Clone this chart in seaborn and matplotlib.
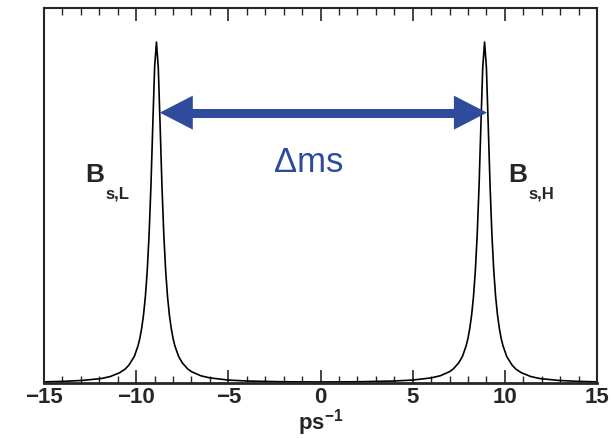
import matplotlib
matplotlib.use("Agg")
import matplotlib.pyplot as plt
from matplotlib.ticker import MultipleLocator
import seaborn as sns
import pandas as pd

# Curve (arbitrary units, peak = 1)
x_vals = [-15.0, -13.9, -12.9, -11.9, -11.4, -10.9, -10.6, -10.4, -10.1, -9.9, -9.8,
          -9.7, -9.6, -9.5, -9.4, -9.3, -9.2, -9.1, -9.0, -8.9, -8.8, -8.7, -8.6,
          -8.5, -8.4, -8.3, -8.2, -8.1, -8.0, -7.9, -7.7, -7.5, -7.2, -7.0, -6.5,
          -6.0, -5.0, -4.0, -2.0, 0.0,
          2.0, 4.0, 5.0, 6.0, 6.5, 7.0, 7.2, 7.5, 7.7, 7.9, 8.0, 8.1, 8.2, 8.3,
          8.4, 8.5, 8.6, 8.7, 8.8, 8.9, 9.0, 9.1, 9.2, 9.3, 9.4, 9.5, 9.6, 9.7,
          9.8, 9.9, 10.1, 10.4, 10.6, 10.9, 11.4, 11.9, 12.9, 13.9, 15.0]
y_vals = [0.0033, 0.0049, 0.0076, 0.013, 0.019, 0.030, 0.0407, 0.052, 0.078, 0.109, 0.131,
          0.161, 0.200, 0.254, 0.329, 0.434, 0.576, 0.754, 0.925, 1.0, 0.925, 0.754, 0.576,
          0.434, 0.329, 0.254, 0.200, 0.161, 0.131, 0.109, 0.078, 0.0592, 0.041, 0.0332, 0.0213,
          0.0149, 0.0086, 0.0058, 0.0036, 0.003,
          0.0036, 0.0058, 0.0086, 0.0149, 0.0213, 0.0332, 0.041, 0.0592, 0.078, 0.109, 0.131,
          0.161, 0.200, 0.254, 0.329, 0.434, 0.576, 0.754, 0.925, 1.0, 0.925, 0.754, 0.576,
          0.434, 0.329, 0.254, 0.200, 0.161, 0.131, 0.109, 0.078, 0.052, 0.0407, 0.030, 0.019,
          0.013, 0.0076, 0.0049, 0.0033]

x_ticks = [-15, -10, -5, 0, 5, 10, 15]
x_tick_labels = ["\u221215", "\u221210", "\u22125", "0", "5", "10", "15"]
arrow_ends = [-8.72, 9.03]
arrow_level = 0.793
delta_label = "\u0394ms"
peak_names = ["B", "B"]
peak_subs = ["s,L", "s,H"]

sns.set_style("ticks")
plt.rcParams['font.family'] = ['Liberation Sans', 'DejaVu Sans']
plt.rcParams['mathtext.fontset'] = 'custom'
plt.rcParams['mathtext.rm'] = 'Liberation Sans'
plt.rcParams['mathtext.bf'] = 'Liberation Sans:bold'

df = pd.DataFrame({"x": x_vals, "y": y_vals})

fig = plt.figure(figsize=(6.12, 4.38), dpi=100)
ax = fig.add_axes([0.0719, 0.1256, 0.9036, 0.8562])
sns.lineplot(data=df, x="x", y="y", ax=ax, color="black", linewidth=1.2)

ax.set_xlim(-15, 15)
ax.set_ylim(0, 1.1)
ax.set_xticks(x_ticks)
ax.set_xticklabels(x_tick_labels, fontsize=16, fontweight="bold")
ax.xaxis.set_minor_locator(MultipleLocator(1))
ax.set_yticks([])
ax.tick_params(axis="x", which="major", direction="in", length=9.5, width=1.2,
               top=True, bottom=True, pad=3)
ax.tick_params(axis="x", which="minor", direction="in", length=5, width=1.0,
               top=True, bottom=True)
ax.set_xlabel(r"$\mathbf{ps}^{\mathbf{-1}}$", fontsize=16)
ax.xaxis.set_label_coords(0.5, -0.1253)
ax.xaxis.label.set_va("baseline")
ax.set_ylabel("")
for s in ax.spines.values():
    s.set_linewidth(1.5)
    s.set_visible(True)
ax.spines["bottom"].set_linewidth(2)

blue = "#2f4b9c"
# arrow heads
for end, back in zip(arrow_ends, [arrow_ends[0] + 3.0, arrow_ends[1] - 3.0]):
    ax.annotate("", xy=(end, arrow_level), xytext=(back, arrow_level),
                arrowprops=dict(arrowstyle="simple,head_length=23.8,head_width=24.5,tail_width=0.01",
                                mutation_scale=1, color=blue, lw=0,
                                shrinkA=0, shrinkB=0))
# arrow shaft
ax.hlines(arrow_level, arrow_ends[0] + 1.0, arrow_ends[1] - 1.0, colors=blue,
          linewidth=6.5, capstyle="butt")
ax.text(-0.65, 0.647, delta_label, color=blue, fontsize=25, ha="center", va="center")

name_x = [-12.78, 10.18]
sub_x = [-11.69, 11.26]
for nm, sb, nx, sx in zip(peak_names, peak_subs, name_x, sub_x):
    ax.text(nx, 0.590, nm, fontsize=19, fontweight="bold", ha="left", va="baseline")
    ax.text(sx, 0.540, sb, fontsize=12, fontweight="bold", ha="left", va="baseline")

fig.savefig("out.png", dpi=100)
